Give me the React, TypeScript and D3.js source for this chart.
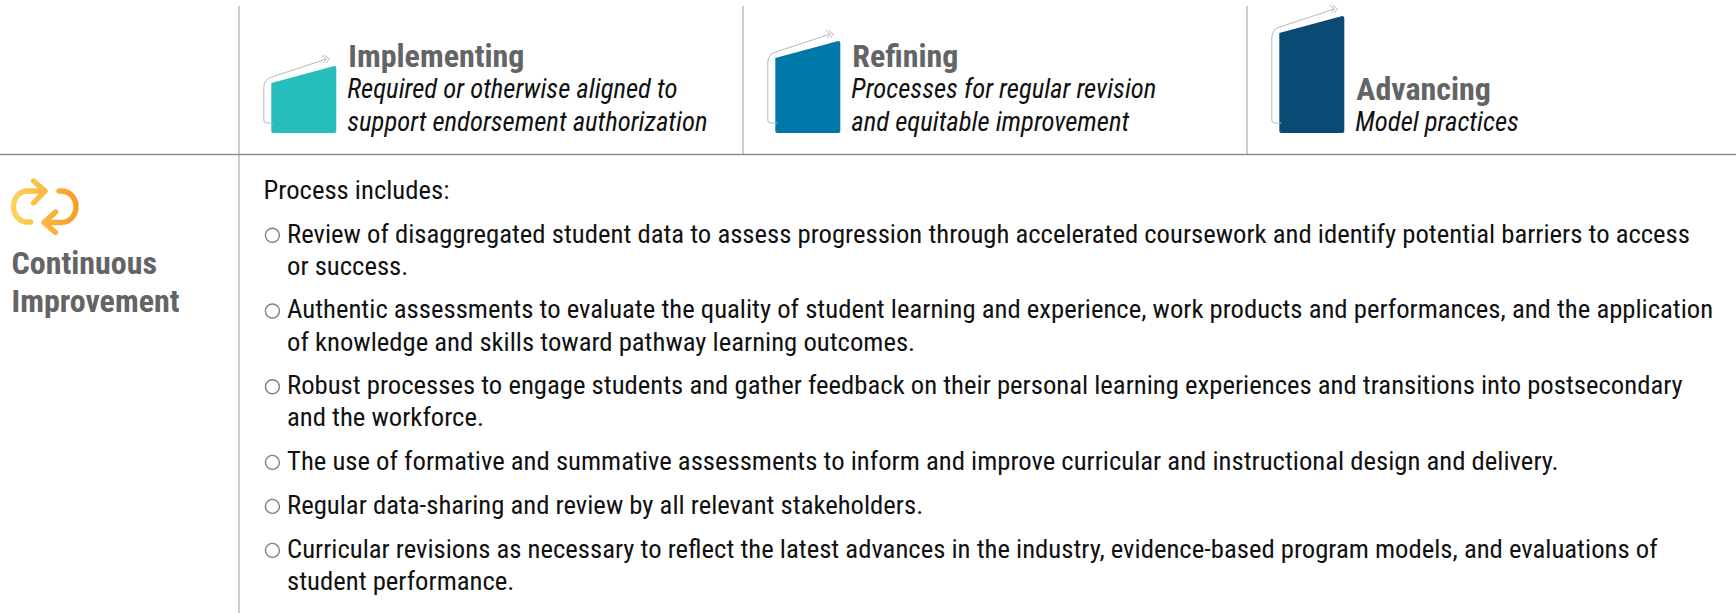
import { useEffect, useRef } from 'react';
import * as d3 from 'd3';

const levelTitles = ['Implementing', 'Refining', 'Advancing'];
const levelNotes = [
  ['Required or otherwise aligned to', 'support endorsement authorization'],
  ['Processes for regular revision', 'and equitable improvement'],
  ['Model practices'],
];
const levelColors = ['#27bdbb', '#0077a9', '#0b4a75'];
// how tall the right edge of each level block is
const levelHeights = [67, 92, 117];
const rowTitle = ['Continuous', 'Improvement'];
const intro = 'Process includes:';
const bullets = [
  ['Review of disaggregated student data to assess progression through accelerated coursework and identify potential barriers to access', 'or success.'],
  ['Authentic assessments to evaluate the quality of student learning and experience, work products and performances, and the application', 'of knowledge and skills toward pathway learning outcomes.'],
  ['Robust processes to engage students and gather feedback on their personal learning experiences and transitions into postsecondary', 'and the workforce.'],
  ['The use of formative and summative assessments to inform and improve curricular and instructional design and delivery.'],
  ['Regular data-sharing and review by all relevant stakeholders.'],
  ['Curricular revisions as necessary to reflect the latest advances in the industry, evidence-based program models, and evaluations of', 'student performance.'],
];

const FONT = '"Roboto Condensed", Roboto, sans-serif';

export default function App() {
  const ref = useRef<SVGSVGElement>(null);

  useEffect(() => {
    const svg = d3.select(ref.current);
    svg.selectAll('*').remove();

    const defs = svg.append('defs');
    const grad = defs
      .append('linearGradient')
      .attr('id', 'loop')
      .attr('gradientUnits', 'userSpaceOnUse')
      .attr('x1', 12)
      .attr('x2', 78)
      .attr('y1', 0)
      .attr('y2', 0);
    grad.append('stop').attr('offset', 0).attr('stop-color', '#fdd35a');
    grad.append('stop').attr('offset', 1).attr('stop-color', '#f99b25');

    // grid lines
    const columnX = d3.scalePoint<number>().domain([0, 1, 2]).range([239, 1247]);
    const rule = '#b3b3b3';
    svg.append('line').attr('x1', 239).attr('x2', 239).attr('y1', 6).attr('y2', 613).attr('stroke', rule).attr('stroke-width', 1.3);
    [1, 2].forEach((i) => {
      svg.append('line').attr('x1', columnX(i)).attr('x2', columnX(i)).attr('y1', 6).attr('y2', 154).attr('stroke', rule).attr('stroke-width', 1.3);
    });
    svg.append('line').attr('x1', 0).attr('x2', 1736).attr('y1', 154.5).attr('y2', 154.5).attr('stroke', '#8e8e8e').attr('stroke-width', 1.3);

    // column headers
    const bottom = 133;
    levelTitles.forEach((title, i) => {
      const x0 = columnX(i) + 32.3;
      const w = 65;
      const top = bottom - levelHeights[i];
      const g = svg.append('g');

      const block = d3.path();
      block.moveTo(x0 + 2, bottom);
      block.quadraticCurveTo(x0, bottom, x0, bottom - 2);
      block.lineTo(x0, top + 17);
      block.lineTo(x0 + w - 2, top);
      block.quadraticCurveTo(x0 + w, top, x0 + w, top + 2);
      block.lineTo(x0 + w, bottom - 2);
      block.quadraticCurveTo(x0 + w, bottom, x0 + w - 2, bottom);
      block.closePath();
      g.append('path').attr('d', block.toString()).attr('fill', levelColors[i]);

      // thin arrow going round the block
      const ax = x0 - 7.5;
      const endX = x0 + w - 10;
      const endY = top - 7;
      const arrow = d3.path();
      arrow.moveTo(x0 + 2, bottom - 10);
      arrow.lineTo(ax + 3, bottom - 10);
      arrow.quadraticCurveTo(ax, bottom - 10, ax, bottom - 13);
      arrow.lineTo(ax, top + 22);
      arrow.quadraticCurveTo(ax, top + 13, ax + 8, top + 11);
      arrow.lineTo(endX, endY);
      g.append('path').attr('d', arrow.toString()).attr('fill', 'none').attr('stroke', '#b4b8bd').attr('stroke-width', 1);
      [0, 3].forEach((d) => {
        const chev = d3.path();
        chev.moveTo(endX - 5 + d, endY - 4);
        chev.lineTo(endX + d, endY);
        chev.lineTo(endX - 3 + d, endY + 4);
        g.append('path').attr('d', chev.toString()).attr('fill', 'none').attr('stroke', '#b4b8bd').attr('stroke-width', 0.9);
      });

      const notes = levelNotes[i];
      const textX = x0 + w + 11;
      const firstNote = 131 - (notes.length - 1) * 33;
      g.append('text')
        .attr('x', textX + 1)
        .attr('y', firstNote - 31)
        .attr('font-family', FONT)
        .attr('font-weight', 700)
        .attr('font-size', 32)
        .attr('fill', '#636466')
        .text(title);
      notes.forEach((line, k) => {
        g.append('text')
          .attr('x', textX)
          .attr('y', firstNote + k * 33)
          .attr('font-family', FONT)
          .attr('font-style', 'italic')
          .attr('font-size', 26.7)
          .attr('fill', '#111')
          .text(line);
      });
    });

    // loop icon
    const icon = svg
      .append('g')
      .attr('fill', 'none')
      .attr('stroke', 'url(#loop)')
      .attr('stroke-width', 5.4)
      .attr('stroke-linecap', 'round')
      .attr('stroke-linejoin', 'round');
    icon.append('path').attr('d', 'M30.5 222 H28 C19 222 13.5 215 13.5 206.5 C13.5 198 19 191 28 191 H45 M33.5 181 L45 191 L33.5 203');
    icon.append('path').attr('d', 'M59 191 H61 C70 191 76 198 76 206.5 C76 215 70 222.5 61 222.5 H44 M55.5 212 L44 222.5 L55.5 232.5');

    rowTitle.forEach((line, i) => {
      svg.append('text')
        .attr('x', 11.5)
        .attr('y', 274 + i * 38)
        .attr('font-family', FONT)
        .attr('font-weight', 700)
        .attr('font-size', 32)
        .attr('fill', '#636466')
        .text(line);
    });

    // process list
    const body = svg.append('g').attr('font-family', FONT).attr('font-size', 26.7).attr('fill', '#111');
    body.append('text').attr('x', 263.5).attr('y', 198.7).text(intro);

    const lineStep = 32.3;
    let y = 242.7;
    bullets.forEach((lines) => {
      svg.append('circle').attr('cx', 272.4).attr('cy', y - 7.4).attr('r', 7).attr('fill', 'none').attr('stroke', '#7f7f7f').attr('stroke-width', 1.4);
      lines.forEach((line, k) => {
        body.append('text').attr('x', 287).attr('y', y + k * lineStep).text(line);
      });
      y += lines.length * lineStep + 43.4 - lineStep;
      if (lines.length === 1) y += 0.6;
    });
  }, []);

  return <svg ref={ref} width={1736} height={613} style={{ position: 'absolute', left: 0, top: 0, display: 'block', background: '#fff' }} />;
}
